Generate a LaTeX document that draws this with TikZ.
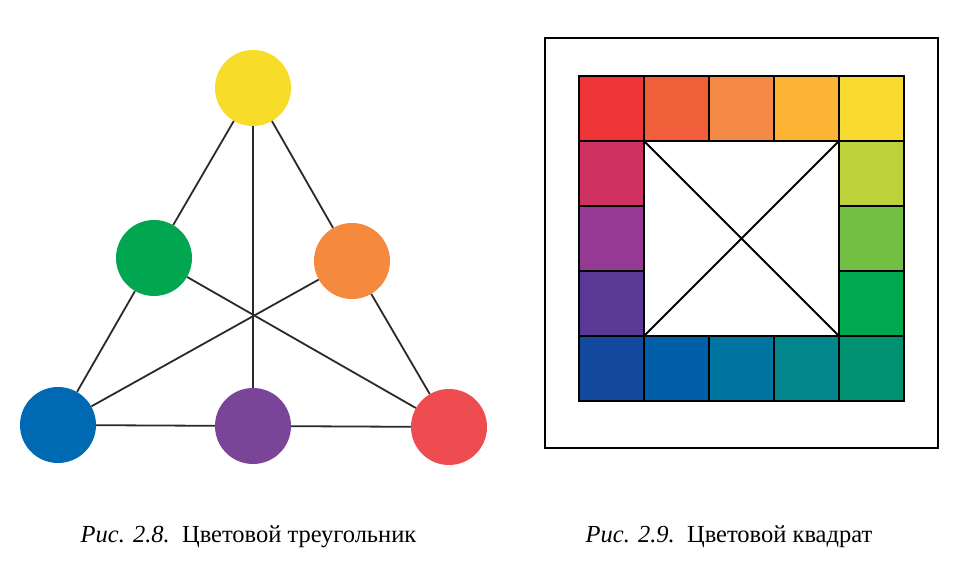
\documentclass[tikz,border=0pt]{standalone}
\usepackage{fontspec}
\setmainfont{Liberation Serif}
\usepackage{xcolor}
\usepackage{tikz}
\usetikzlibrary{positioning}
% triangle colours
\definecolor{triyellow}{HTML}{F7DC2A}
\definecolor{trigreen} {HTML}{00A650}
\definecolor{triorange}{HTML}{F58A3F}
\definecolor{triblue}  {HTML}{0069B4}
\definecolor{tripurple}{HTML}{7A4499}
\definecolor{trired}   {HTML}{EE4C50}
\definecolor{edge}     {HTML}{2A2A2A}
% square colours, clockwise from the top left
\definecolor{sq01}{HTML}{EE3537}
\definecolor{sq02}{HTML}{F15E3A}
\definecolor{sq03}{HTML}{F58A47}
\definecolor{sq04}{HTML}{FDB334}
\definecolor{sq05}{HTML}{F8D92F}
\definecolor{sq06}{HTML}{BDD13A}
\definecolor{sq07}{HTML}{72BF44}
\definecolor{sq08}{HTML}{00A84F}
\definecolor{sq09}{HTML}{009270}
\definecolor{sq10}{HTML}{00868B}
\definecolor{sq11}{HTML}{0074A0}
\definecolor{sq12}{HTML}{005FA7}
\definecolor{sq13}{HTML}{144A9D}
\definecolor{sq14}{HTML}{5A3996}
\definecolor{sq15}{HTML}{943A94}
\definecolor{sq16}{HTML}{CF3261}

\begin{document}
\begin{tikzpicture}[
  x=1pt, y=-1pt,
  % Coordinates are the pixel grid of the page, y running down.
  dot/.style={circle, inner sep=0pt, minimum size=76pt},
  link/.style={draw=edge, line width=1.8pt},
  cell/.style={draw=black, line width=1.3pt, inner sep=0pt, minimum size=65pt},
  caption/.style={font=\fontsize{24.5}{29}\selectfont, anchor=base}
]
\useasboundingbox (0,0) rectangle (978,561);

% --- Left: colour triangle ---
\node[dot, fill=triyellow] (yellow) at (253, 88)  {};
\node[dot, fill=trigreen]  (green)  at (154, 258) {};
\node[dot, fill=triorange] (orange) at (352, 261) {};
\node[dot, fill=triblue]   (blue)   at (58, 425)  {};
\node[dot, fill=tripurple] (purple) at (253, 426) {};
\node[dot, fill=trired]    (red)    at (449, 427) {};

% --- Triangle edges ---
\draw[link] (yellow) -- (green);
\draw[link] (green) -- (blue);
\draw[link] (yellow) -- (orange);
\draw[link] (orange) -- (red);
\draw[link] (blue) -- (purple);
\draw[link] (purple) -- (red);

% --- Lines through the centre ---
\draw[link] (yellow) -- (purple);
\draw[link] (green) -- (red);
\draw[link] (orange) -- (blue);

% --- Right: colour square ---
\node[draw, line width=2.6pt, minimum width=393pt, minimum height=410pt] (frame) at (741.5, 243) {};

\foreach \i/\j/\c [count=\n] in {0/0/sq01, 1/0/sq02, 2/0/sq03, 3/0/sq04, 4/0/sq05,
    4/1/sq06, 4/2/sq07, 4/3/sq08, 4/4/sq09, 3/4/sq10, 2/4/sq11, 1/4/sq12,
    0/4/sq13, 0/3/sq14, 0/2/sq15, 0/1/sq16}
  \node[cell, fill=\c] (cell\n) at (611.5+65*\i, 108.5+65*\j) {};

% --- Inner square with its diagonals ---
\node[draw, line width=1.5pt, inner sep=0pt, minimum size=195pt] (inner) at (741.5, 238.5) {};
\draw[line width=2pt] (inner.north west) -- (inner.south east);
\draw[line width=2pt] (inner.north east) -- (inner.south west);

% --- Captions ---
\node[caption] (cap1) at (248.5, 542) {\textit{Рис. 2.8.}\ \ Цветовой треугольник};
\node[caption] (cap2) at (729, 542) {\textit{Рис. 2.9.}\ \ Цветовой квадрат};

\end{tikzpicture}
\end{document}
